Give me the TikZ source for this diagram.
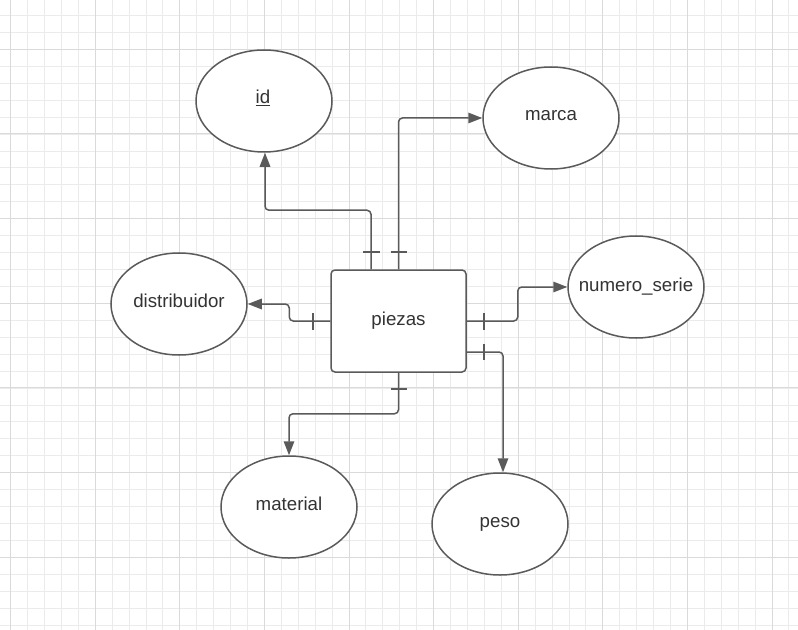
\documentclass[tikz,border=0pt]{standalone}
\usepackage{fontspec}
\setmainfont{Liberation Sans}
\usetikzlibrary{arrows.meta,shapes.geometric,calc}
\definecolor{ln}{HTML}{5A5A5A}
\definecolor{txt}{HTML}{333333}
\definecolor{gmin}{HTML}{EBEBEB}
\definecolor{gmaj}{HTML}{DADADA}
\begin{document}
\begin{tikzpicture}[x=1bp,y=-1bp,
  attr/.style={ellipse, draw=ln, line width=1.5bp, minimum width=136bp, minimum height=102bp, inner sep=0pt, fill=white},
  ent/.style={rectangle, rounded corners=4bp, draw=ln, line width=1.5bp, minimum width=135bp, minimum height=102bp, inner sep=0pt, fill=white},
  lbl/.style={anchor=base, text=txt, font=\fontsize{18.7bp}{22bp}\selectfont, inner sep=0pt},
  conn/.style={draw=ln, line width=1.5bp, rounded corners=4bp, -{Triangle[length=14bp,width=10.5bp]}},
  tickmark/.style={draw=ln, line width=1.5bp},
  gridmin/.style={draw=gmin, line width=1bp},
  gridmaj/.style={draw=gmaj, line width=1bp}
]
\useasboundingbox (0,0) rectangle (798,630);
\fill[white] (0,0) rectangle (798,630);
% grid (snapped to pixel centres)
\foreach \i in {0,...,48} \draw[gridmin] ({floor(-6.2+16.918*\i)+0.5},0) -- ++(0,630);
\foreach \i in {0,...,38} \draw[gridmin] (0,{floor(-1.4+16.934*\i)+0.5}) -- ++(798,0);
\foreach \i in {0,...,9} \draw[gridmaj] ({floor(10.7+84.59*\i)+0.5},0) -- ++(0,630);
\foreach \i in {1,...,7} \draw[gridmaj] (0,{floor(-35.4+84.67*\i)+0.5}) -- ++(798,0);

% nodes
\node[attr] (id) at (264,101) {};
\node[attr] (marca) at (551,118) {};
\node[attr] (distribuidor) at (179,304) {};
\node[attr] (numero) at (636,287) {};
\node[attr] (material) at (289,507) {};
\node[attr] (peso) at (500,524) {};
\node[ent] (piezas) at (398.5,321) {};

% labels
\node[lbl] (tid) at ($(id.center)+(-1,2.5)$) {\underline{id}};
\node[lbl] (tmarca) at ($(marca.center)+(0,3)$) {marca};
\node[lbl] (tdistribuidor) at ($(distribuidor.center)+(0,3)$) {distribuidor};
\node[lbl] (tnumero) at ($(numero.center)+(0,4)$) {numero\_serie};
\node[lbl] (tmaterial) at ($(material.center)+(0,3)$) {material};
\node[lbl] (tpeso) at ($(peso.center)+(0,3)$) {peso};
\node[lbl] (tpiezas) at ($(piezas.center)+(0,4.5)$) {piezas};

% connectors
\draw[conn] ($(piezas.north)+(-27.5,0)$) -- ++(0,-59) -| ($(id.south)+(1,0)$);
\draw[conn] (piezas.north) |- (marca.west);
\draw[conn] (piezas.west) -- ++(-41,0) |- (distribuidor.east);
\draw[conn] (piezas.east) -- ++(51,0) |- (numero.west);
\draw[conn] ($(piezas.east)+(0,31)$) -| ($(peso.north)+(3,0)$);
\draw[conn] (piezas.south) -- ++(0,41) -| (material.north);

% ticks
\draw[tickmark] (363,252) -- (380,252);
\draw[tickmark] (390.5,252) -- (407,252);
\draw[tickmark] (313,313) -- (313,330);
\draw[tickmark] (484,313) -- (484,330);
\draw[tickmark] (484,344) -- (484,360);
\draw[tickmark] (390.5,389) -- (407,389);
\end{tikzpicture}
\end{document}
